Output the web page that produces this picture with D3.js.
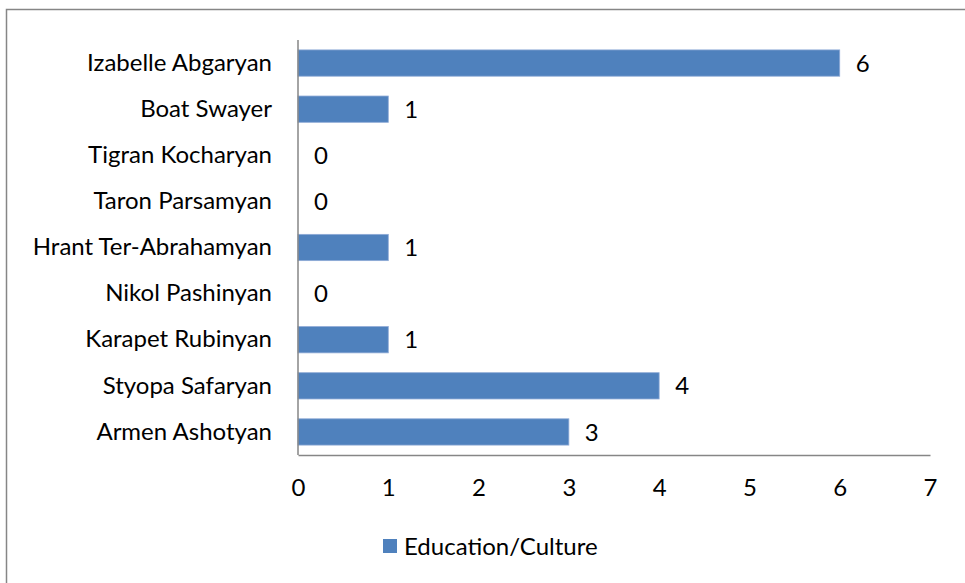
<!DOCTYPE html>
<html>
<head>
<meta charset="utf-8">
<script src="https://cdn.jsdelivr.net/npm/d3@7"></script>
<style>
  body { margin: 0; background: #fff; }
  text { font-family: Lato, sans-serif; fill: #000; }
</style>
</head>
<body>
<svg id="chart" width="965" height="583"></svg>
<script>
var names = [ 'Izabelle Abgaryan', 'Boat Swayer', 'Tigran Kocharyan', 'Taron Parsamyan',
  'Hrant Ter-Abrahamyan', 'Nikol Pashinyan', 'Karapet Rubinyan', 'Styopa Safaryan', 'Armen Ashotyan' ];
var values = [ 6, 1, 0, 0, 1, 0, 1, 4, 3 ];
var xTicks = [ 0, 1, 2, 3, 4, 5, 6, 7 ];
var seriesName = 'Education/Culture';

var svg = d3.select( '#chart' ),
  margin = { top: 40, right: 35, bottom: 128, left: 298 },
  width = +svg.attr( 'width' ),
  height = +svg.attr( 'height' );

var font = 'Lato, sans-serif',
  fontSize = '24px';

// outer frame
svg.append( 'rect' )
  .attr( 'x', 6.5 )
  .attr( 'y', 9.5 )
  .attr( 'width', 980 )
  .attr( 'height', 600 )
  .attr( 'fill', 'none' )
  .attr( 'stroke', '#868686' )
  .attr( 'stroke-width', 1.5 );

var x = d3.scaleLinear()
  .domain( [ 0, 7 ] )
  .range( [ margin.left, 930 ] );

var y = d3.scaleBand()
  .domain( names )
  .range( [ margin.top, height - margin.bottom ] )
  .paddingInner( 0.43 )
  .paddingOuter( 0.215 );

var color = '#4F81BD';

svg.selectAll( '.bar' )
  .data( names )
  .enter().append( 'rect' )
    .attr( 'class', 'bar' )
    .attr( 'x', x( 0 ) )
    .attr( 'y', d => y( d ) )
    .attr( 'width', ( d, i ) => x( values[ i ] ) - x( 0 ) )
    .attr( 'height', y.bandwidth() )
    .attr( 'fill', color )
    .attr( 'stroke', '#8eaad6' )
    .attr( 'stroke-width', ( d, i ) => values[ i ] > 0 ? 0.8 : 0 );

// value labels
svg.selectAll( '.val' )
  .data( names )
  .enter().append( 'text' )
    .attr( 'class', 'val' )
    .attr( 'x', ( d, i ) => x( values[ i ] ) + 16 )
    .attr( 'y', d => y( d ) + y.bandwidth() / 2 )
    .attr( 'dy', '0.36em' )
    .style( 'font-size', fontSize )
    .text( ( d, i ) => values[ i ] );

// y axis
var yAxis = svg.append( 'g' )
  .attr( 'transform', 'translate(' + x( 0 ) + ',0)' )
  .call( d3.axisLeft( y ).tickSize( 0 ).tickPadding( 26 ) );
yAxis.select( '.domain' ).attr( 'stroke', '#868686' ).attr( 'stroke-width', 1.5 )
  .attr( 'd', 'M0,' + margin.top + 'V' + ( height - margin.bottom ) );
yAxis.selectAll( 'text' ).style( 'font-size', fontSize ).style( 'font-family', font ).attr( 'fill', '#000' );

// x axis
var xAxis = svg.append( 'g' )
  .attr( 'transform', 'translate(0,' + ( height - margin.bottom ) + ')' )
  .call( d3.axisBottom( x ).tickValues( xTicks ).tickFormat( d3.format( 'd' ) ).tickSize( 0 ).tickPadding( 24 ) );
xAxis.select( '.domain' ).attr( 'stroke', '#868686' ).attr( 'stroke-width', 1.5 );
xAxis.selectAll( 'text' ).style( 'font-size', fontSize ).style( 'font-family', font ).attr( 'fill', '#000' );

// legend
var legend = svg.append( 'g' )
  .attr( 'transform', 'translate(383,539)' );
legend.append( 'rect' )
  .attr( 'width', 14 )
  .attr( 'height', 14 )
  .attr( 'fill', color );
legend.append( 'text' )
  .attr( 'x', 21 )
  .attr( 'y', 7 )
  .attr( 'dy', '0.36em' )
  .style( 'font-size', fontSize )
  .text( seriesName );
</script>
</body>
</html>
